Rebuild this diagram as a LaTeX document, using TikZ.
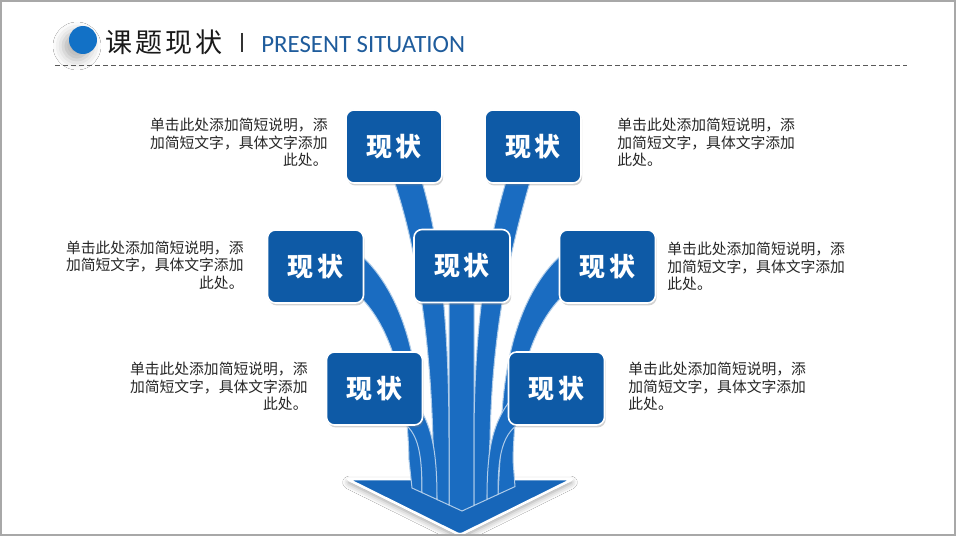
\documentclass[tikz,border=0pt]{standalone}
\usepackage{fontspec}
\setmainfont{Carlito}
\newfontfamily\cjk{Noto Sans CJK SC}
\definecolor{sitBoxBlue}{HTML}{0E5AA6}
\definecolor{sitStripBlue}{HTML}{1A6CC1}
\definecolor{sitArrowBlue}{HTML}{1766B9}
\definecolor{sitDotBlue}{HTML}{1271C6}
\definecolor{sitTitleBlue}{HTML}{1F5C9C}
\definecolor{sitFrameGray}{HTML}{A8A8A8}
\colorlet{sitStripLine}{sitStripBlue!35!white}
\usetikzlibrary{shadows}
\usetikzlibrary{shadows.blur}

\tikzset{
  statebox/.style={rounded corners=4pt, fill=sitBoxBlue, draw=white, line width=0.8pt,
    minimum width=48pt, minimum height=36.5pt, text=white,
    font=\cjk\bfseries\fontsize{13}{13}\selectfont,
    drop shadow={shadow xshift=0.6pt, shadow yshift=-1.2pt, opacity=0.35}},
  notetext/.style={font=\cjk\fontsize{7.4}{8.75}\selectfont, text=black!85, inner sep=0pt},
  strip/.style={fill=sitStripBlue, draw=sitStripLine, line width=0.5pt},
}

\begin{document}
\begin{tikzpicture}[x=0.5pt, y=-0.5pt]
  \useasboundingbox (0,0) rectangle (960,540);
  \fill[white] (0,0) rectangle (960,540);
  \begin{scope}
  \clip (1.2,1.2) rectangle (955,535);

  % heading
  \fill[sitDotBlue, blur shadow={shadow xshift=-3pt, shadow yshift=-3pt, shadow blur radius=5pt, shadow opacity=30}] (83,40) circle (7pt);
  \node[anchor=west, inner sep=0pt, text=black!90, font=\cjk\fontsize{13.5}{14}\selectfont] (title) at (105,42) {课\hspace{1.5pt}题\hspace{1.5pt}现\hspace{1.5pt}状};
  \draw[black!80, line width=0.9pt] (242,33) -- (242,52);
  \node[anchor=west, inner sep=0pt, text=sitTitleBlue, font=\fontsize{12.4}{13}\selectfont] (entitle) at (261,45) {PRESENT SITUATION};
  \draw[black!65, line width=0.5pt, dash pattern=on 2.5pt off 1.5pt] (55,66) -- (907,66);

  % arrow head
  \filldraw[fill=sitArrowBlue, draw=white, line width=1.3pt, rounded corners=1.5pt,
    blur shadow={shadow xshift=0pt, shadow yshift=-1.5pt, shadow blur radius=3pt, shadow opacity=40}]
    (347,479) -- (573,479) -- (460,535) -- cycle;

  % strips
  \filldraw[strip] (449,290) -- (449,505) -- (462,511) -- (474,505.5) -- (474,290) -- cycle;
  \filldraw[strip] (392,175) .. controls (415,240) and (430,330) .. (433,440) -- (437,499.5) -- (449,505) -- (449,440) .. controls (449,320) and (440,240) .. (420,175) -- cycle;
  \filldraw[strip] (508,175) .. controls (488,240) and (474,320) .. (474,440) -- (474,505.5) -- (487,499.5) -- (490,440) .. controls (492,330) and (510,250) .. (532,175) -- cycle;
  \filldraw[strip] (355,292) .. controls (385,318) and (407,370) .. (409,460) -- (412,488) -- (422,492.6) -- (421,440) .. controls (420,360) and (402,288) .. (355,250) -- cycle;
  \filldraw[strip] (567,292) .. controls (537,318) and (515,370) .. (513,460) -- (515,486.6) -- (498,494.4) -- (501,440) .. controls (502,360) and (520,288) .. (567,250) -- cycle;
  \filldraw[strip] (395,418) .. controls (418,428) and (422,450) .. (422,492.6) -- (437,499.5) .. controls (437,450) and (432,420) .. (410,395) -- cycle;
  \filldraw[strip] (515,395) .. controls (492,420) and (487,450) .. (487,499.5) -- (498,494.4) .. controls (498,450) and (503,428) .. (530,418) -- cycle;

  % boxes
  \node[statebox] (topL) at (394,146.5) {现\hspace{2pt}状};
  \node[statebox] (topR) at (533,146.5) {现\hspace{2pt}状};
  \node[statebox] (midL) at (315.5,266.5) {现\hspace{2pt}状};
  \node[statebox] (midC) at (462,266) {现\hspace{2pt}状};
  \node[statebox] (midR) at (607.5,266.5) {现\hspace{2pt}状};
  \node[statebox] (lowL) at (374.5,388.5) {现\hspace{2pt}状};
  \node[statebox] (lowR) at (556.5,388.5) {现\hspace{2pt}状};

  % notes
  \node[notetext, anchor=east, align=right] (noteTopL) at (328,142.5) {单击此处添加简短说明，添\\加简短文字，具体文字添加\\此处。};
  \node[notetext, anchor=west, align=left] (noteTopR) at (617,142.5) {单击此处添加简短说明，添\\加简短文字，具体文字添加\\此处。};
  \node[notetext, anchor=east, align=right] (noteMidL) at (244,265) {单击此处添加简短说明，添\\加简短文字，具体文字添加\\此处。};
  \node[notetext, anchor=west, align=left] (noteMidR) at (667,266.5) {单击此处添加简短说明，添\\加简短文字，具体文字添加\\此处。};
  \node[notetext, anchor=east, align=right] (noteLowL) at (308,386.5) {单击此处添加简短说明，添\\加简短文字，具体文字添加\\此处。};
  \node[notetext, anchor=west, align=left] (noteLowR) at (628,386.5) {单击此处添加简短说明，添\\加简短文字，具体文字添加\\此处。};
  \end{scope}
  \draw[sitFrameGray, line width=1.2pt] (1.2,1.2) rectangle (955,535);
\end{tikzpicture}
\end{document}
